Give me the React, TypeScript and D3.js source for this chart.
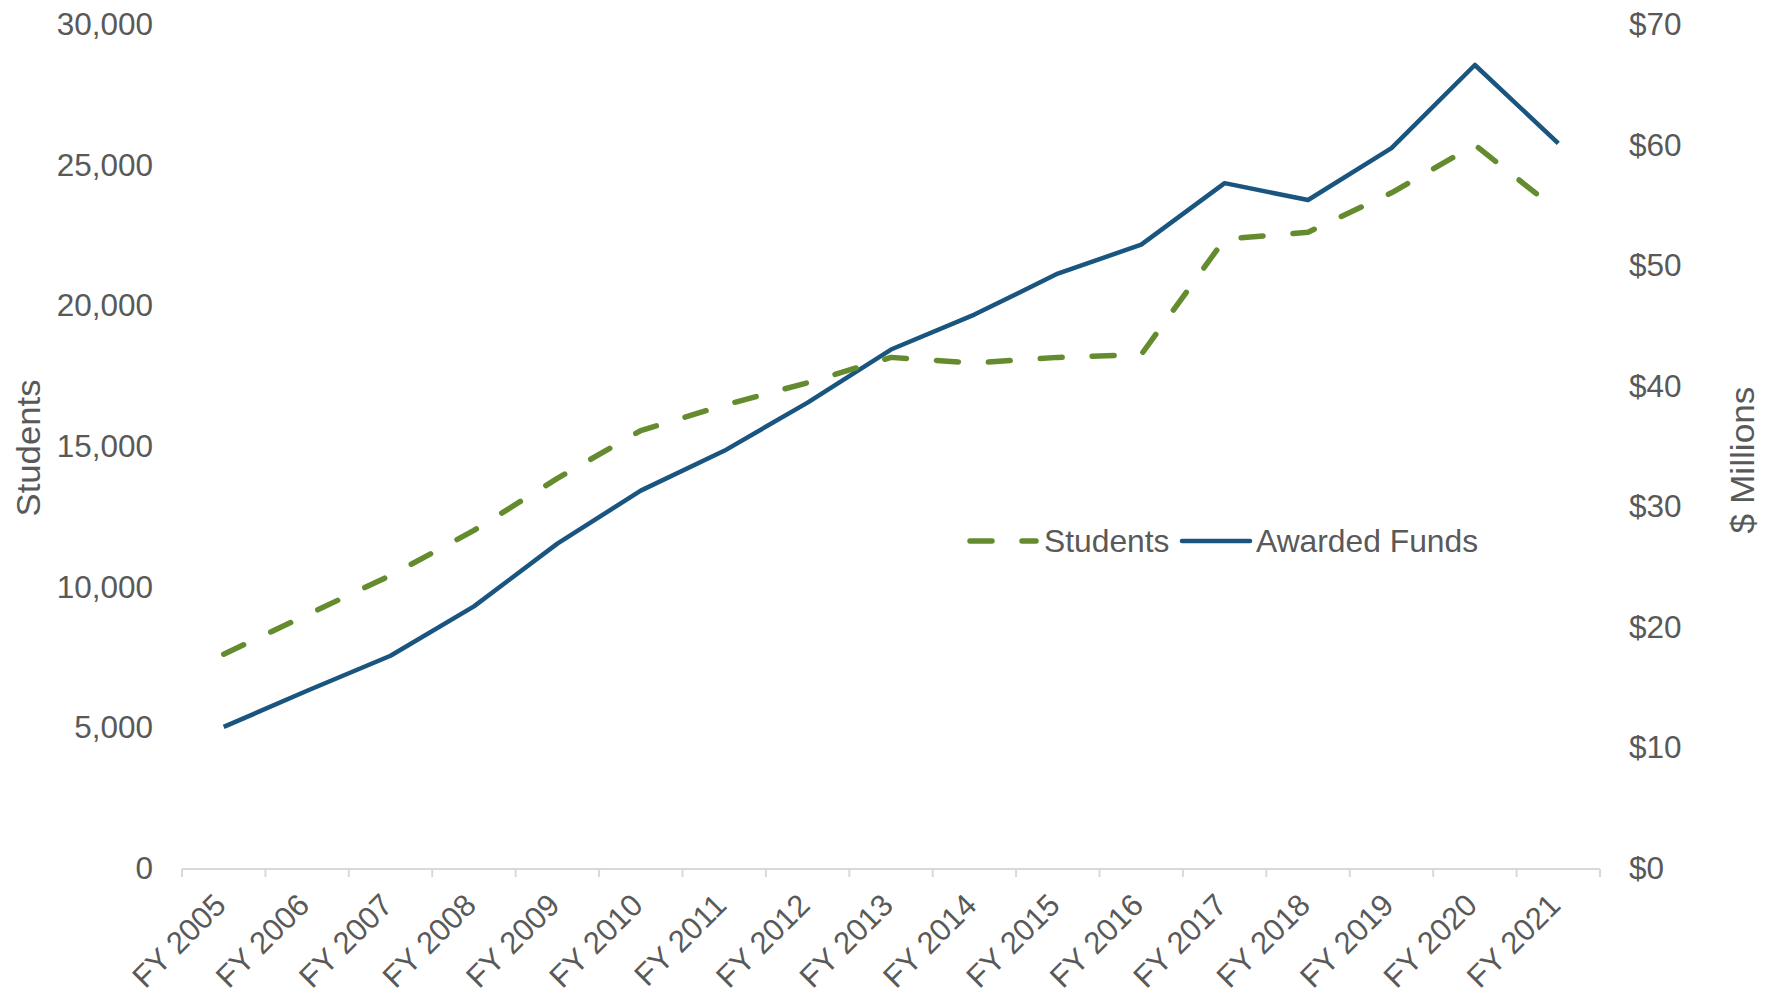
import React from 'react';
import * as d3 from 'd3';

const years = ['FY 2005', 'FY 2006', 'FY 2007', 'FY 2008', 'FY 2009', 'FY 2010', 'FY 2011', 'FY 2012', 'FY 2013',
  'FY 2014', 'FY 2015', 'FY 2016', 'FY 2017', 'FY 2018', 'FY 2019', 'FY 2020', 'FY 2021'];
const students = [7600, 9000, 10400, 12000, 13850, 15550, 16450, 17250, 18150, 17950, 18150, 18250, 22350, 22600, 24000, 25700, 23350];
const funds = [11.7, 14.7, 17.6, 21.7, 26.9, 31.3, 34.6, 38.6, 43.0, 45.9, 49.3, 51.7, 56.8, 55.4, 59.7, 66.6, 60.1];
const leftTicks = [0, 5000, 10000, 15000, 20000, 25000, 30000];
const rightTicks = [0, 10, 20, 30, 40, 50, 60, 70];

const width = 1771;
const height = 995;
const margin = { top: 24, right: 171, bottom: 127, left: 182 };

const green = '#648C2F';
const blue = '#1A5580';
const textColor = '#595959';
const font = 'Arial, "Liberation Sans", sans-serif';

export default function App() {
  const x = d3.scaleBand<string>()
    .domain(years)
    .range([margin.left, width - margin.right]);
  const yLeft = d3.scaleLinear().domain([0, 30000]).range([height - margin.bottom, margin.top]);
  const yRight = d3.scaleLinear().domain([0, 70]).range([height - margin.bottom, margin.top]);

  const cx = (d: string) => (x(d) ?? 0) + x.bandwidth() / 2;
  const studentLine = d3.line<number>().x((_, i) => cx(years[i])).y(d => yLeft(d));
  const fundLine = d3.line<number>().x((_, i) => cx(years[i])).y(d => yRight(d));

  const y0 = yLeft(0);
  const boundaries = d3.range(years.length + 1).map(i => margin.left + i * x.step());
  const fmt = d3.format(',');

  return (
    <svg width={width} height={height} style={{ position: 'absolute', left: 0, top: 0, background: '#fff' }}
      fontFamily={font}>
      {/* x axis */}
      <line x1={margin.left} x2={width - margin.right} y1={y0 + 1} y2={y0 + 1} stroke="#d9d9d9" strokeWidth={2} />
      {boundaries.map((b, i) => (
        <line key={i} x1={b} x2={b} y1={y0 + 1} y2={y0 + 9} stroke="#d9d9d9" strokeWidth={2} />
      ))}
      {years.map(d => (
        <text key={d} transform={`translate(${cx(d) + 4},${y0 + 39}) rotate(-45)`} textAnchor="end"
          fontSize={31} fill={textColor}>{d}</text>
      ))}

      {/* left axis */}
      {leftTicks.map(t => (
        <text key={t} x={153} y={yLeft(t)} dy="0.35em" textAnchor="end" fontSize={31.5} fill={textColor}>{fmt(t)}</text>
      ))}
      <text transform={`translate(40,448) rotate(-90)`} textAnchor="middle" fontSize={34} fill={textColor}
        textLength={137} lengthAdjust="spacingAndGlyphs">Students</text>

      {/* right axis */}
      {rightTicks.map(t => (
        <text key={t} x={1629} y={yRight(t)} dy="0.35em" textAnchor="start" fontSize={31.5} fill={textColor}>${t}</text>
      ))}
      <text transform={`translate(1754,460) rotate(-90)`} textAnchor="middle" fontSize={34} fill={textColor}
        textLength={147} lengthAdjust="spacingAndGlyphs">$ Millions</text>

      {/* series */}
      <path d={fundLine(funds) ?? ''} fill="none" stroke={blue} strokeWidth={4.5} strokeLinejoin="round" />
      <path d={studentLine(students) ?? ''} fill="none" stroke={green} strokeWidth={5.5}
        strokeDasharray="22 30" strokeLinecap="round" strokeLinejoin="round" />

      {/* legend */}
      <g transform="translate(0,541)">
        <line x1={970} x2={1036} y1={0} y2={0} stroke={green} strokeWidth={5.5} strokeDasharray="22 30"
          strokeLinecap="round" />
        <text x={1044} y={0} dy="0.35em" fontSize={31.8} fill={textColor}>Students</text>
        <line x1={1182} x2={1250} y1={0} y2={0} stroke={blue} strokeWidth={4.5} strokeLinecap="round" />
        <text x={1256} y={0} dy="0.35em" fontSize={31.8} fill={textColor}>Awarded Funds</text>
      </g>
    </svg>
  );
}
